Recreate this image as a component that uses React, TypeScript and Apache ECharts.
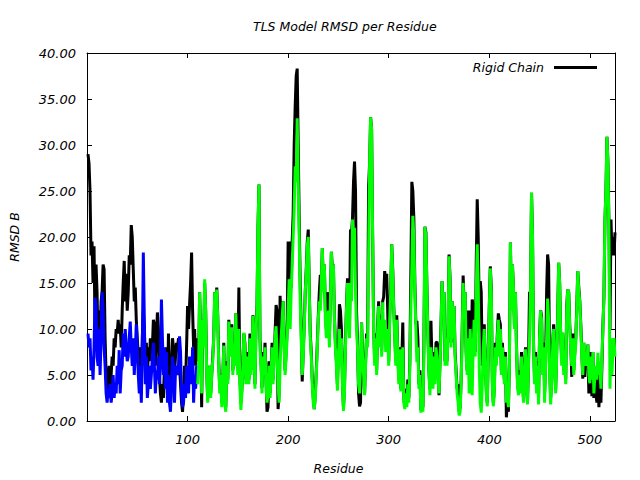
import React, { useEffect, useRef } from "react";
import * as echarts from "echarts";

// RMSD B of the rigid-chain model, residue 1..525
const rigidChain: number[] = [
  29.0, 28.0, 25.0, 18.0, 19.5, 15.0, 19.0, 10.0, 17.0, 14.0,
  8.0, 12.0, 9.0, 13.0, 14.0, 17.0, 16.5, 9.0, 5.0, 3.0,
  4.0, 6.0, 3.5, 5.0, 7.0, 6.0, 9.0, 8.0, 10.0, 9.5,
  11.0, 9.5, 10.5, 8.0, 12.0, 15.0, 17.4, 13.0, 16.0, 12.0,
  14.0, 18.0, 17.0, 21.3, 20.0, 16.5, 13.0, 14.5, 11.0, 9.0,
  7.0, 5.0, 8.0, 4.0, 9.0, 12.0, 10.0, 6.0, 8.5, 4.0,
  8.0, 6.5, 9.0, 7.0, 8.0, 11.0, 10.5, 6.0, 9.0, 11.8,
  10.0, 5.0, 3.0, 2.0, 4.0, 2.5, 6.0, 5.0, 8.0, 3.0,
  9.5, 4.0, 1.5, 6.0, 9.0, 8.0, 5.0, 7.0, 8.5, 8.0,
  9.0, 6.0, 4.0, 2.0, 1.0, 3.0, 6.0, 4.0, 8.0, 12.5,
  10.0, 12.7, 15.0, 18.3, 12.0, 8.0, 10.0, 6.0, 9.0, 7.0,
  6.5, 14.0, 9.5, 1.5, 11.0, 8.5, 15.0, 12.0, 5.5, 2.5,
  4.5, 6.0, 3.0, 5.0, 7.0, 9.0, 14.0, 10.5, 14.5,
  11.5, 6.5, 3.5, 5.0, 2.0, 4.5, 8.5, 3.0, 1.5, 6.5,
  4.5, 11.0, 7.5, 9.0, 10.5, 5.5, 8.5, 6.5, 11.7, 7.5,
  6.0, 14.5, 5.0, 2.0, 3.5, 6.5, 9.5, 8.5, 4.5, 7.0,
  7.5, 4.5, 9.5, 5.5, 7.5, 11.5, 8.5, 4.0, 10.0, 12.5,
  21.0, 25.7, 9.0, 6.5, 3.6, 7.5, 5.5, 8.5, 4.5, 1.0,
  1.5, 6.5, 3.0, 5.5, 8.5, 4.5, 7.0, 9.5, 12.6, 12.0,
  1.3, 3.0, 13.6, 10.0, 11.5, 13.0, 8.5, 5.5, 7.5, 10.0,
  19.5, 15.5, 19.5, 14.5, 19.5, 22.5, 30.0, 34.2, 37.5, 38.3,
  30.0, 22.0, 15.0, 10.0, 4.3, 7.5, 10.5, 14.0, 16.5, 19.5,
  20.8, 14.5, 9.5, 7.5, 4.5, 2.5, 1.3, 3.0, 5.5,
  8.5, 11.5, 14.0, 15.9, 15.0, 18.8, 14.5, 17.0, 12.0, 10.0,
  14.0, 12.5, 9.0, 13.5, 18.4, 16.5, 17.0, 11.5, 8.5, 6.5,
  4.0, 7.5, 12.7, 12.0, 10.0, 4.5, 1.5, 3.5, 8.5, 12.5,
  15.5, 12.5, 10.0, 20.8, 20.4, 22.0, 26.0, 28.2, 25.0, 12.0,
  8.5, 3.0, 1.6, 2.0, 10.7, 7.5, 5.5, 3.0, 6.5, 9.5,
  8.5, 25.5, 28.0, 33.0, 31.7, 20.5, 10.5, 6.5, 9.5, 5.5,
  10.5, 13.0, 8.5, 11.5, 7.5, 13.0, 13.5, 16.3, 15.0, 16.0,
  12.0, 6.5, 11.5, 14.5, 19.2, 16.5, 12.5, 9.5, 6.5, 11.5,
  7.5, 4.5, 8.0, 3.5, 6.5, 10.7, 2.5, 1.6, 3.5,
  2.0, 4.5, 2.5, 6.5, 16.0, 26.0, 25.0, 22.0, 15.0, 10.5,
  10.9, 9.0, 4.0, 5.5, 1.2, 2.5, 1.5, 8.5, 21.1, 20.5,
  14.5, 9.5, 5.5, 3.5, 10.9, 6.5, 4.0, 7.5, 4.5, 8.5,
  8.6, 8.0, 2.8, 6.5, 10.5, 15.2, 12.5, 14.0, 6.5, 9.5,
  6.5, 10.5, 18.1, 15.5, 8.5, 13.0, 9.5, 12.5, 7.5, 5.5,
  3.5, 4.0, 1.0, 1.5, 4.5, 9.5, 15.8, 12.5, 14.0, 7.5,
  5.5, 12.0, 11.0, 12.0, 6.5, 13.2, 12.5, 11.5, 7.5, 17.0,
  24.1, 20.0, 12.0, 15.2, 14.0, 6.0, 8.5, 10.5, 6.5, 3.5,
  2.0, 7.5, 12.5, 16.8, 14.5, 4.5, 2.0, 3.5, 8.5, 6.5,
  9.5, 11.7, 11.0, 10.5, 5.5, 8.5, 6.5, 4.5, 7.5,
  0.4, 2.0, 1.0, 6.5, 19.4, 12.5, 17.0, 14.5, 10.5, 14.0,
  8.5, 4.5, 3.2, 5.5, 3.5, 7.5, 4.5, 2.5, 5.5, 8.0,
  4.5, 2.0, 6.5, 14.0, 14.0, 24.8, 20.0, 8.5, 4.5, 7.5,
  3.5, 6.5, 2.5, 9.5, 12.0, 11.5, 5.5, 8.5, 3.0, 6.5,
  14.0, 18.1, 17.0, 6.0, 2.5, 4.5, 8.5, 10.5, 6.5, 3.5,
  7.5, 11.5, 17.2, 15.0, 9.5, 6.5, 9.6, 5.5, 7.5, 4.5,
  12.5, 14.3, 14.0, 10.5, 8.5, 4.8, 9.5, 5.5, 7.5, 9.0,
  12.5, 16.3, 14.5, 13.0, 10.5, 7.5, 4.6, 8.5, 4.8, 7.5,
  6.5, 8.3, 3.0, 4.1, 7.5, 2.7, 7.5, 2.5, 5.5,
  3.0, 2.0, 5.0, 1.5, 4.0, 2.0, 6.0, 10.5, 13.5, 21.9,
  25.0, 30.9, 28.0, 21.6, 10.0, 21.9, 18.0, 20.0, 18.0, 20.5,
];

// RMSD B of the TLS model, residue 1..525 (first group drawn blue, second green)
const tlsModel: number[] = [
  9.5, 8.0, 9.0, 5.5, 7.0, 4.5, 8.0, 13.4, 12.5, 7.0,
  6.0, 10.0, 5.0, 9.0, 14.0, 12.0, 8.0, 6.0, 3.0, 2.0,
  3.5, 2.5, 4.0, 2.0, 3.0, 5.0, 2.5, 4.0, 3.0, 6.0,
  4.0, 7.7, 3.0, 5.5, 6.0, 9.5, 7.0, 10.0, 8.0, 6.5,
  7.0, 9.0, 10.8, 8.0, 6.0, 9.0, 5.0, 7.5, 10.5, 8.0,
  5.0, 3.0, 6.0, 2.0, 8.0, 18.3, 11.0, 4.0, 7.0, 2.5,
  4.0, 6.0, 3.5, 5.0, 7.0, 8.5, 6.0, 3.0, 5.5, 4.5,
  7.0, 4.0, 6.0, 13.2, 9.0, 5.0, 8.0, 3.5, 7.5, 2.0,
  5.0, 2.0, 1.0, 4.0, 7.0, 6.0, 2.0, 5.5, 6.0, 5.0,
  6.0, 9.2, 7.5, 3.0, 1.5, 2.0, 4.0, 2.5, 6.0, 5.0,
  3.0, 7.0, 6.0, 4.0, 8.0, 2.0, 5.0, 3.5, 6.0, 4.0,
  6.0, 14.0, 9.0, 3.0, 11.0, 8.0, 15.4, 12.0, 5.0, 2.0,
  4.0, 6.0, 2.5, 5.0, 6.5, 9.0, 14.0, 10.0, 14.3,
  11.0, 6.0, 3.0, 5.0, 1.5, 4.0, 8.2, 2.0, 1.0, 6.0,
  4.0, 10.8, 7.0, 9.0, 10.2, 5.0, 8.0, 6.0, 11.7, 7.0,
  5.0, 10.0, 4.0, 1.2, 3.0, 6.0, 9.6, 8.0, 4.0, 6.5,
  7.0, 4.0, 9.0, 5.0, 7.0, 11.4, 8.0, 3.5, 10.0, 12.0,
  21.0, 25.7, 8.0, 6.0, 3.0, 7.0, 5.0, 8.0, 4.0, 2.0,
  3.0, 6.0, 2.5, 5.0, 8.0, 4.0, 6.5, 9.0, 10.3, 7.0,
  4.0, 2.0, 6.0, 9.0, 11.0, 13.0, 8.0, 5.0, 7.0, 9.0,
  12.0, 15.4, 10.0, 14.0, 17.0, 20.0, 23.0, 27.7, 26.0, 32.9,
  26.0, 20.0, 13.0, 9.0, 5.0, 7.0, 10.0, 14.0, 16.0, 19.0,
  20.0, 14.0, 9.0, 7.0, 4.0, 2.0, 1.3, 2.5, 5.0,
  8.0, 11.0, 13.0, 12.0, 15.0, 18.8, 14.0, 17.0, 11.0, 9.0,
  10.0, 12.0, 8.0, 13.0, 18.4, 16.0, 17.0, 11.0, 8.0, 6.0,
  3.3, 7.0, 10.0, 6.0, 9.0, 4.0, 1.1, 3.0, 8.0, 12.0,
  15.0, 12.0, 9.0, 15.0, 13.0, 21.9, 20.0, 21.0, 14.0, 10.0,
  8.0, 4.0, 3.0, 6.0, 10.7, 7.0, 5.0, 2.8, 6.0, 9.0,
  8.0, 18.0, 28.0, 33.0, 31.7, 20.0, 10.0, 6.0, 9.0, 5.0,
  10.0, 12.5, 8.0, 11.0, 7.0, 12.9, 9.0, 11.0, 7.5, 10.0,
  9.0, 6.0, 11.0, 14.0, 19.2, 16.0, 12.0, 9.0, 6.0, 11.0,
  7.0, 4.0, 7.8, 3.2, 6.0, 8.0, 2.0, 1.3, 3.0,
  1.5, 4.0, 2.0, 6.0, 12.0, 17.0, 22.3, 20.0, 14.0, 10.0,
  6.4, 8.0, 3.5, 5.0, 0.9, 2.0, 1.0, 8.0, 21.1, 20.0,
  14.0, 9.0, 5.0, 2.8, 8.0, 6.0, 3.5, 7.0, 4.0, 8.0,
  7.0, 5.0, 3.0, 6.0, 10.0, 15.2, 12.0, 14.0, 6.0, 9.0,
  6.0, 10.0, 17.9, 15.0, 8.0, 13.0, 9.0, 12.5, 7.0, 5.0,
  3.0, 2.0, 0.6, 1.0, 4.0, 9.0, 15.0, 12.0, 14.0, 7.0,
  5.0, 9.0, 3.0, 10.0, 6.0, 2.8, 8.0, 11.0, 7.0, 14.0,
  19.2, 15.0, 6.0, 2.0, 0.9, 4.0, 8.0, 10.0, 6.0, 3.0,
  1.6, 7.0, 12.0, 16.6, 14.0, 4.0, 1.6, 3.0, 8.0, 6.0,
  9.0, 11.0, 7.0, 10.0, 5.0, 8.0, 6.0, 4.0, 7.0,
  2.0, 3.0, 1.5, 6.0, 19.4, 12.0, 17.0, 14.5, 10.0, 14.0,
  8.0, 4.0, 2.8, 5.0, 3.0, 7.0, 4.0, 2.0, 5.0, 7.8,
  4.0, 1.8, 6.0, 9.0, 14.0, 24.8, 20.0, 8.0, 4.0, 7.0,
  3.0, 6.0, 1.8, 9.0, 12.0, 11.0, 5.0, 8.0, 2.0, 6.0,
  9.0, 13.3, 11.0, 5.0, 1.8, 4.0, 8.0, 10.0, 6.0, 3.0,
  7.0, 11.0, 17.2, 15.0, 9.0, 6.0, 9.6, 5.0, 7.0, 4.0,
  12.0, 14.3, 14.0, 10.0, 8.0, 6.0, 9.0, 5.0, 7.0, 8.5,
  12.0, 16.3, 14.0, 13.0, 10.0, 7.0, 5.0, 8.5, 6.0, 7.5,
  6.0, 8.3, 5.0, 4.1, 7.0, 4.5, 7.5, 3.0, 5.0,
  6.0, 4.5, 7.4, 5.0, 6.5, 3.5, 7.0, 10.0, 13.5, 21.9,
  25.0, 30.9, 28.0, 20.0, 3.5, 9.0, 5.0, 8.0, 9.0, 7.0,
];

const firstGroupLastResidue = 110;
const xTickValues = [100, 200, 300, 400, 500];
const titleText = "TLS Model RMSD per Residue";
const legendLabel = "Rigid Chain";

const FONT = "DejaVu Sans";
const txt = { fontFamily: FONT, fontStyle: "italic" as const, fontWeight: "normal" as const, fontSize: 12.5, color: "#000" };
const tickTxt = { ...txt, fontSize: 13 };

export default function App() {
  const ref = useRef<HTMLDivElement>(null);
  useEffect(() => {
    if (!ref.current) return;
    const chart = echarts.init(ref.current, undefined, { renderer: "svg" });
    const blackPts = rigidChain.map((v, i) => [i + 1, v]);
    const tlsPts = tlsModel.map((v, i) => [i + 1, v]);
    const bluePts = tlsPts.slice(0, firstGroupLastResidue);
    const greenPts = tlsPts.slice(firstGroupLastResidue - 1);
    const n = rigidChain.length;
    const axisLine = { show: true, onZero: false, lineStyle: { color: "#000", width: 1 } };
    const tick = { show: true, inside: true, length: 5, lineStyle: { color: "#000", width: 1 } };
    const xBase = { type: "value" as const, min: 0, max: n, interval: 100, splitLine: { show: false }, axisLine, axisTick: tick };
    const yBase = { type: "value" as const, min: 0, max: 40, interval: 5, splitLine: { show: false }, axisLine, axisTick: tick };
    const lineSeries = (name: string, data: number[][], color: string, z: number) => ({
      name, type: "line" as const, data, showSymbol: false, symbol: "none", z,
      lineStyle: { color, width: 3, join: "bevel", cap: "butt" }, itemStyle: { color },
      emphasis: { disabled: true }, silent: true,
    });
    chart.setOption({
      animation: false,
      backgroundColor: "#ffffff",
      title: { text: titleText, left: 248, top: 15, textStyle: txt },
      legend: {
        data: [legendLabel], right: 38, top: 56, align: "right", icon: "rect",
        itemWidth: 43, itemHeight: 3, textStyle: { ...txt, padding: [0, 5, 0, 0] }, selectedMode: false,
      },
      grid: { left: 85, right: 25, top: 53, bottom: 58 },
      xAxis: [
        {
          ...xBase, position: "bottom", name: "Residue", nameLocation: "middle", nameGap: 41,
          nameTextStyle: { ...txt, padding: [0, 25, 0, 0] },
          axisLabel: { ...tickTxt, margin: 12, formatter: (v: number) => (xTickValues.includes(v) ? String(v) : "") },
        },
        { ...xBase, position: "top", axisLabel: { show: false } },
      ],
      yAxis: [
        {
          ...yBase, position: "left", name: "RMSD B", nameLocation: "middle", nameGap: 66, nameRotate: 90, nameTextStyle: txt,
          axisLabel: { ...tickTxt, margin: 11, formatter: (v: number) => v.toFixed(2) },
        },
        { ...yBase, position: "right", axisLabel: { show: false } },
      ],
      series: [
        lineSeries(legendLabel, blackPts, "#000000", 2),
        lineSeries("TLS group 1", bluePts, "#0000ff", 3),
        lineSeries("TLS group 2", greenPts, "#00ff00", 3),
      ],
    });
    return () => chart.dispose();
  }, []);
  return <div ref={ref} style={{ position: "absolute", left: 0, top: 0, width: 640, height: 480 }} />;
}
